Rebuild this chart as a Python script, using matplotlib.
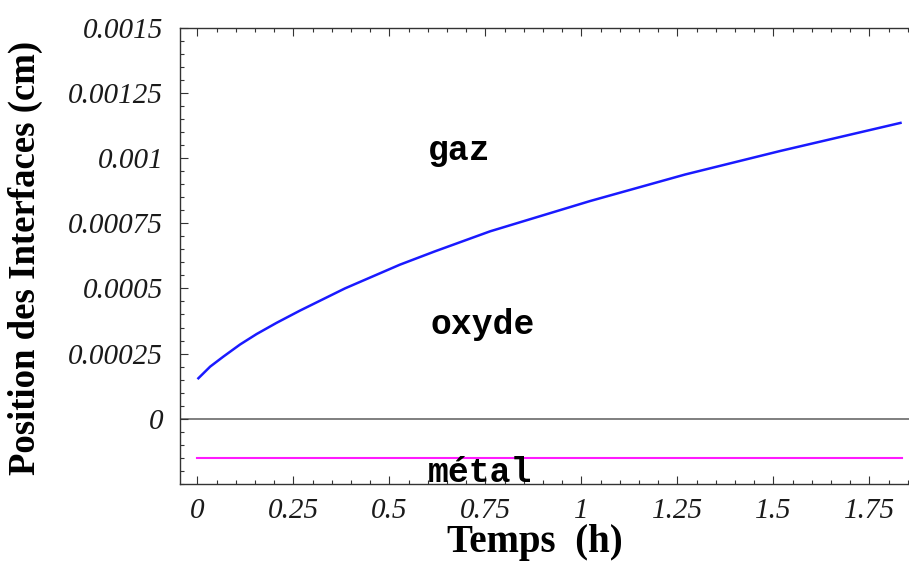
import matplotlib
matplotlib.use('Agg')
import matplotlib.pyplot as plt
from matplotlib.ticker import FixedLocator, MultipleLocator

# values
temps = [0.0, 0.033, 0.067, 0.111, 0.154, 0.206, 0.267, 0.384, 0.527,
         0.618, 0.762, 1.022, 1.270, 1.517, 1.834]
interface_oxyde_gaz = [0.000152, 0.000200, 0.000238, 0.000285, 0.000325,
                       0.000368, 0.000415, 0.000500, 0.000591, 0.000642,
                       0.000719, 0.000835, 0.000937, 0.001027, 0.001136]
metal_t = [0.0, 1.834]
interface_metal = [-0.000152, -0.000152]

x_ticks = [0, 0.25, 0.5, 0.75, 1, 1.25, 1.5, 1.75]
x_tick_labels = ['0', '0.25', '0.5', '0.75', '1', '1.25', '1.5', '1.75']
y_ticks = [0, 0.00025, 0.0005, 0.00075, 0.001, 0.00125, 0.0015]
y_tick_labels = ['0', '0.00025', '0.0005', '0.00075', '0.001', '0.00125', '0.0015']

zones = ['gaz', 'oxyde', 'métal']
zone_t = [0.60, 0.606, 0.60]
zone_y = [0.00103, 0.00036, -0.000205]

fig = plt.figure(figsize=(9.09, 5.66), dpi=100)
ax = fig.add_axes([0.198, 0.145, 0.802, 0.806])

ax.axhline(0, color='#7f7f7f', lw=1.4, zorder=1)
ax.plot(temps, interface_oxyde_gaz, color='#1a1aff', lw=1.8,
        solid_joinstyle='round', solid_capstyle='butt')
ax.plot(metal_t, interface_metal, color='#ff1aff', lw=1.5)

for name, t, y in zip(zones, zone_t, zone_y):
    ax.text(t, y, name, family='Liberation Mono', fontweight='bold',
            fontsize=25, ha='left', va='center')

ax.set_xlim(-0.0456, 1.853)
ax.set_ylim(-0.00025, 0.0015)

ax.xaxis.set_major_locator(FixedLocator(x_ticks))
ax.set_xticklabels(x_tick_labels)
ax.xaxis.set_minor_locator(MultipleLocator(0.05))
ax.yaxis.set_major_locator(FixedLocator(y_ticks))
ax.set_yticklabels(y_tick_labels)
ax.yaxis.set_minor_locator(MultipleLocator(0.00005))

ax.tick_params(which='both', direction='in', top=True, right=False,
               color='#333333', width=0.8)
ax.tick_params(which='major', length=6)
ax.tick_params(which='minor', length=3)
ax.tick_params(axis='x', pad=10)
ax.tick_params(axis='y', pad=12)
for lab in ax.get_xticklabels() + ax.get_yticklabels():
    lab.set_family('Liberation Serif')
    lab.set_style('italic')
    lab.set_fontsize(21)
    lab.set_color('#1a1a1a')

for side in ['left', 'bottom', 'top']:
    ax.spines[side].set_color('#333333')
    ax.spines[side].set_linewidth(1.0)
ax.spines['right'].set_visible(False)

ax.set_ylabel('Position des Interfaces (cm)', family='Liberation Serif',
              fontweight='bold', fontsize=26.5)
ax.yaxis.set_label_coords(-0.188, 0.496)
ax.set_xlabel('Temps  (h)', family='Liberation Serif', fontweight='bold',
              fontsize=28)
ax.xaxis.set_label_coords(0.487, -0.088)

fig.savefig('out.png', dpi=100)
